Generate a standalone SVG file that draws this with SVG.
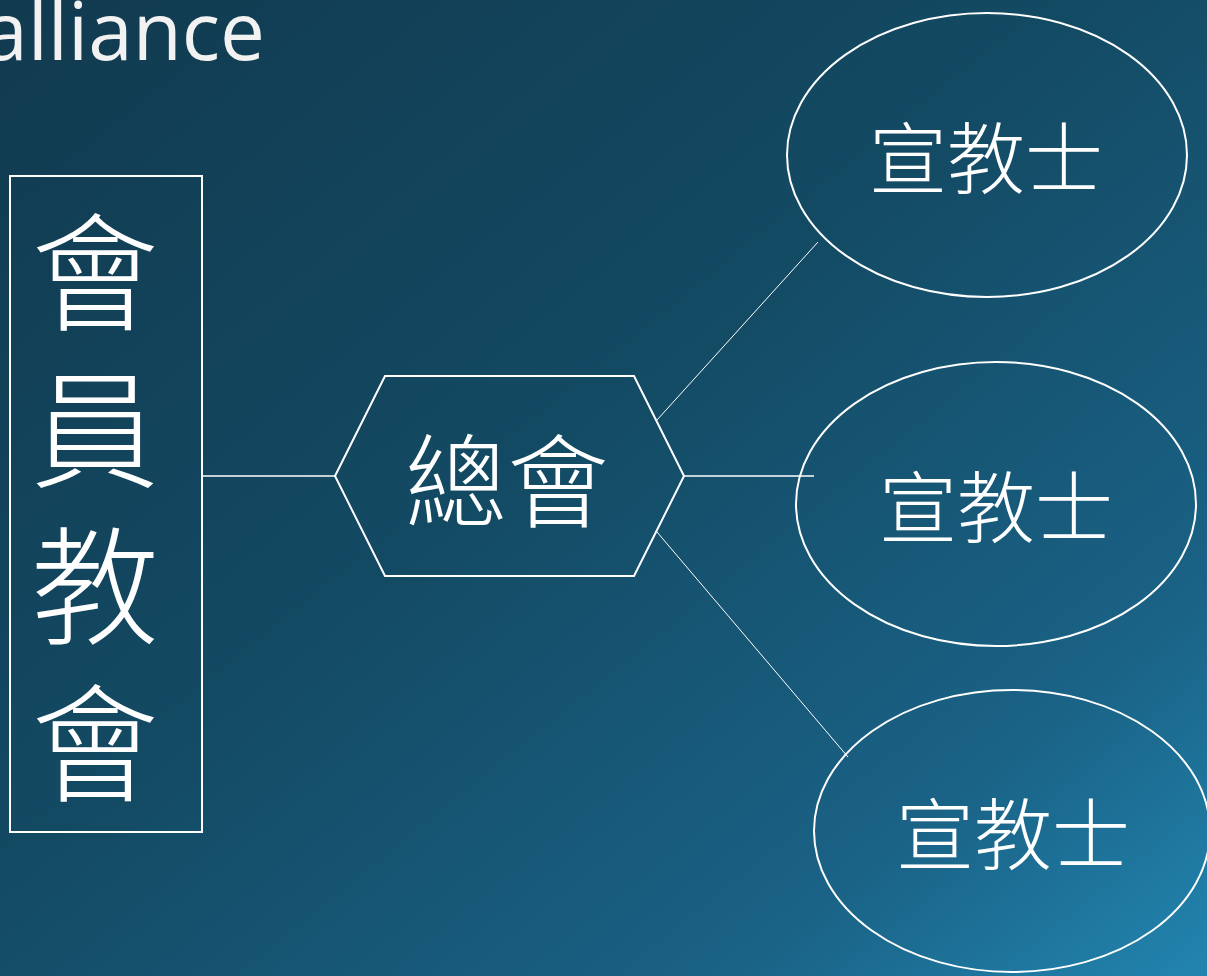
<svg xmlns="http://www.w3.org/2000/svg" width="1207" height="976" viewBox="0 0 1207 976">
<defs>
<linearGradient id="bg" x1="0" y1="0" x2="1" y2="1">
<stop offset="0" stop-color="#113a4f"/>
<stop offset="0.45" stop-color="#134a63"/>
<stop offset="0.8" stop-color="#1a6286"/>
<stop offset="1" stop-color="#2285af"/>
</linearGradient>
<style>
.shape{fill:none;stroke:#ffffff;stroke-width:2}
.conn{stroke:#ffffff;fill:none}
.cjk{font-family:"Noto Sans CJK TC","Noto Sans CJK SC",sans-serif;fill:#ffffff;font-weight:300}
</style>
</defs>
<rect width="1207" height="976" fill="url(#bg)"/>
<text x="265" y="60" text-anchor="end" font-family="'Open Sans','Noto Sans',sans-serif" font-size="80" fill="#f2f2f2">alliance</text>
<g id="connectors">
<line class="conn" stroke-width="1.5" x1="202" y1="476" x2="335" y2="476"/>
<line class="conn" stroke-width="1.5" x1="684" y1="476" x2="814" y2="476"/>
<line class="conn" stroke-width="1" x1="657" y1="420" x2="818" y2="242"/>
<line class="conn" stroke-width="1" x1="657" y1="532" x2="848" y2="757"/>
</g>
<g id="member-churches">
<rect class="shape" x="10" y="176" width="192" height="656"/>
<text class="cjk" font-size="128" writing-mode="vertical-rl" letter-spacing="29" x="95" y="208">會員教會</text>
</g>
<g id="general-assembly">
<polygon class="shape" points="335,476 385,376 634,376 684,476 634,576 385,576"/>
<text class="cjk" font-size="102" text-anchor="middle" x="507" y="520">總會</text>
</g>
<g id="missionary-1">
<ellipse class="shape" cx="987" cy="155" rx="200" ry="142"/>
<text class="cjk" font-size="78" text-anchor="middle" x="986" y="188">宣教士</text>
</g>
<g id="missionary-2">
<ellipse class="shape" cx="996" cy="504" rx="200" ry="142"/>
<text class="cjk" font-size="78" text-anchor="middle" x="996" y="537">宣教士</text>
</g>
<g id="missionary-3">
<ellipse class="shape" cx="1012" cy="831" rx="198" ry="141"/>
<text class="cjk" font-size="78" text-anchor="middle" x="1013" y="864">宣教士</text>
</g>
</svg>
